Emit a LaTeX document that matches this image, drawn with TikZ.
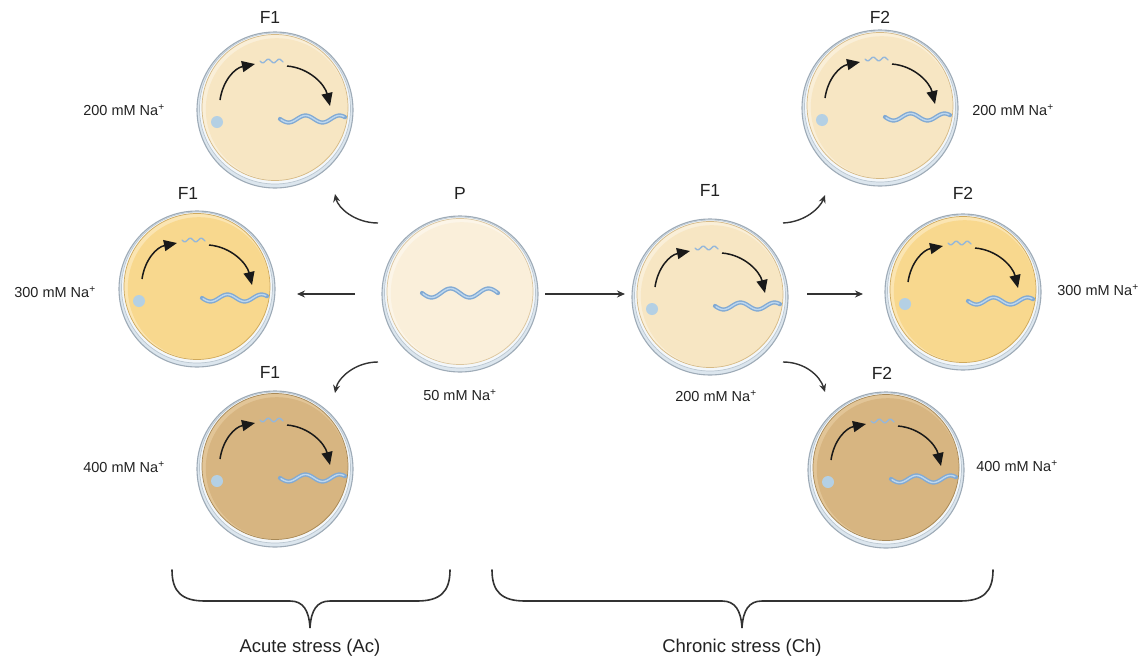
\documentclass[tikz,border=0pt]{standalone}
\usepackage{fontspec}
\setmainfont{Liberation Sans}
\usetikzlibrary{arrows.meta,calc}

% agar shades: base, lighter crescent, rim line
\definecolor{pale}{HTML}{FAEFDA}
\definecolor{paleLight}{HTML}{FCF5E8}
\definecolor{paleEdge}{HTML}{DCC69E}
\definecolor{cream}{HTML}{F7E6C3}
\definecolor{creamLight}{HTML}{FAEFD8}
\definecolor{creamEdge}{HTML}{D6BA86}
\definecolor{yolk}{HTML}{F8D88E}
\definecolor{yolkLight}{HTML}{FBE5B2}
\definecolor{yolkEdge}{HTML}{CFA95C}
\definecolor{tan}{HTML}{D7B581}
\definecolor{tanLight}{HTML}{E2C597}
\definecolor{tanEdge}{HTML}{A88957}
% glass, worms, ink
\definecolor{rimFill}{HTML}{DCE6EE}
\definecolor{rimEdge}{HTML}{9EABB7}
\definecolor{lidFill}{HTML}{F3F7FA}
\definecolor{lidEdge}{HTML}{BAC6D0}
\definecolor{wormDark}{HTML}{82AAD3}
\definecolor{wormLight}{HTML}{BDD7EE}
\definecolor{egg}{HTML}{B4D0E4}
\definecolor{ink}{HTML}{222222}
\definecolor{linkInk}{HTML}{333333}

\tikzset{
  x=1pt, y=-1pt,
  rim/.style={circle, draw=rimEdge, fill=rimFill, line width=1.1pt,
              minimum size=156pt, inner sep=0pt},
  lid/.style={draw=lidEdge, fill=lidFill, line width=0.7pt},
  generation/.style={text=ink, font=\fontsize{17.5}{20}\selectfont, inner sep=0pt},
  conc/.style={text=ink, font=\fontsize{14.5}{17}\selectfont, inner sep=0pt},
  group/.style={text=ink, font=\fontsize{18.5}{22}\selectfont, inner sep=0pt},
  link/.style={draw=linkInk, line width=1.4pt, -{Stealth[length=8pt,width=7pt]}},
  inarrow/.style={draw=black!90, line width=1.5pt, -{Triangle[length=13pt,width=11pt]}},
  wormouter/.style={draw=wormDark, line width=4.2pt, line cap=round},
  worminner/.style={draw=wormLight, line width=1.4pt, line cap=round},
  wormtiny/.style={draw=wormDark!85, line width=1.4pt, line cap=round},
  brace/.style={draw=linkInk, line width=1.6pt, line cap=round},
}

% a Petri dish: name, x, y, agar colour
\newcommand\petri[4]{%
  \node[rim] (#1) at (#2,#3) {};
  \begin{scope}[shift={(#2,#3)}]
    \draw[lid] (0,-1.5) circle (75.5pt);
    \fill[#4Light] (0,-2.5) circle (73pt);
    \fill[#4] (1.8,-0.8) circle (71pt);
    \draw[#4Edge, line width=0.7pt] (0,-2.5) circle (73pt);
  \end{scope}}

% a wavy worm: x, y, length, amplitude, period
\newcommand\bigworm[5]{%
  \draw[wormouter] plot[domain=0:#3, samples=60, smooth] ({#1+\x},{#2+#4*sin((\x/#5)*360)});
  \draw[worminner] plot[domain=1:#3-1, samples=60, smooth] ({#1+\x},{#2+#4*sin((\x/#5)*360)});}
\newcommand\tinyworm[2]{%
  \draw[wormtiny] plot[domain=0:23, samples=30, smooth] ({#1+\x},{#2+1.8*sin((\x/11)*360)});}

% egg, hatchling and adult with the two life-cycle arrows
\newcommand\lifecycle[2]{%
  \begin{scope}[shift={(#1,#2)}]
    \fill[egg] (-58,12) circle (6pt);
    \tinyworm{-15}{-49}
    \bigworm{5}{9}{65}{3.5}{34}
    \draw[inarrow] (-55,-10) .. controls (-52,-30) and (-40,-42) .. (-20,-46);
    \draw[inarrow] (12,-44) .. controls (35,-42) and (50,-25) .. (55,-4);
  \end{scope}}

\begin{document}
\begin{tikzpicture}
\useasboundingbox (0,0) rectangle (1144,659);

% ---------- dishes ----------
\petri{P}{460}{294}{pale}
\bigworm{422}{293}{76}{4.5}{38}

\petri{aTop}{275}{110}{cream}   \lifecycle{275}{110}
\petri{aMid}{197}{289}{yolk}    \lifecycle{197}{289}
\petri{aBot}{275}{469}{tan}     \lifecycle{275}{469}

\petri{cF1}{710}{297}{cream}    \lifecycle{710}{297}
\petri{cTop}{880}{108}{cream}   \lifecycle{880}{108}
\petri{cMid}{963}{292}{yolk}    \lifecycle{963}{292}
\petri{cBot}{886}{470}{tan}     \lifecycle{886}{470}

% ---------- generation labels ----------
\node[generation] (gP)    at (460,193) {P};
\node[generation] (gaTop) at (270,17)  {F1};
\node[generation] (gaMid) at (188,193) {F1};
\node[generation] (gaBot) at (270,372) {F1};
\node[generation] (gcF1)  at (710,190) {F1};
\node[generation] (gcTop) at (880,17)  {F2};
\node[generation] (gcMid) at (963,193) {F2};
\node[generation] (gcBot) at (882,373) {F2};

% ---------- concentrations ----------
\node[conc] (nP)    at (460,395)  {50 mM Na\textsuperscript{+}};
\node[conc] (naTop) at (124,110)  {200 mM Na\textsuperscript{+}};
\node[conc] (naMid) at (55,292)   {300 mM Na\textsuperscript{+}};
\node[conc] (naBot) at (124,467)  {400 mM Na\textsuperscript{+}};
\node[conc] (ncF1)  at (716,396)  {200 mM Na\textsuperscript{+}};
\node[conc] (ncTop) at (1013,110) {200 mM Na\textsuperscript{+}};
\node[conc] (ncMid) at (1098,290) {300 mM Na\textsuperscript{+}};
\node[conc] (ncBot) at (1017,466) {400 mM Na\textsuperscript{+}};

% ---------- transfers between dishes ----------
\draw[link] ($(P)+(-82,-71)$) .. controls +(-23,0) and +(3,14) .. ($(aTop)+(60,84)$);
\draw[link] ($(P)+(-105,0)$) -- ($(aMid)+(100,5)$);
\draw[link] ($(P)+(-82,68)$) .. controls +(-23,0) and +(3,-15) .. ($(aBot)+(60,-76)$);
\draw[link] ($(P)+(85,0)$) -- ($(cF1)+(-85,-3)$);
\draw[link] ($(cF1)+(73,-74)$) .. controls +(22,-1) and +(-5,13) .. ($(cTop)+(-55,87)$);
\draw[link] ($(cF1)+(97,-3)$) -- ($(cMid)+(-100,2)$);
\draw[link] ($(cF1)+(73,65)$) .. controls +(22,0) and +(-5,-16) .. ($(cBot)+(-61,-78)$);

% ---------- grouping braces ----------
\draw[brace] (172,570) .. controls (172,592) and (182,601) .. (205,601) -- (290,601)
  .. controls (303,601) and (309,610) .. (310,628)
  .. controls (311,610) and (317,601) .. (330,601) -- (417,601)
  .. controls (440,601) and (450,592) .. (450,570);
\draw[brace] (492,570) .. controls (492,592) and (502,601) .. (525,601) -- (722,601)
  .. controls (735,601) and (741,610) .. (742,628)
  .. controls (743,610) and (749,601) .. (762,601) -- (960,601)
  .. controls (983,601) and (993,592) .. (993,570);

\node[group] (gAc) at (310,648) {Acute stress (Ac)};
\node[group] (gCh) at (742,648) {Chronic stress (Ch)};
\end{tikzpicture}
\end{document}
